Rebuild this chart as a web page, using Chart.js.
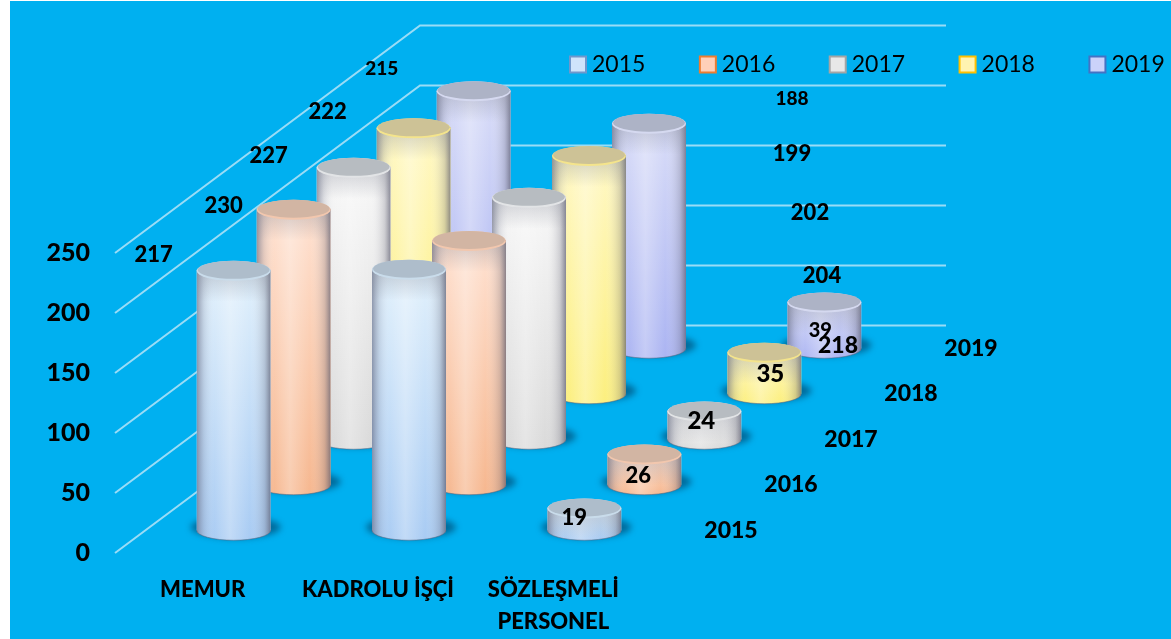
<!DOCTYPE html>
<html><head><meta charset="utf-8">
<style>html,body{margin:0;padding:0;background:#fff}#w{position:relative;width:1171px;height:639px}canvas{display:block}</style>
<script src="https://cdn.jsdelivr.net/npm/chart.js@4"></script>
</head><body><div id="w"><canvas id="c" width="1171" height="639"></canvas></div>
<script>
const categories = [['MEMUR'], ['KADROLU İŞÇİ'], ['SÖZLEŞMELİ', 'PERSONEL']];
const years = ['2015', '2016', '2017', '2018', '2019'];
const values2015 = [217, 218, 19];
const values2016 = [230, 204, 26];
const values2017 = [227, 202, 24];
const values2018 = [222, 199, 35];
const values2019 = [215, 188, 39];
const yTicks = { min: 0, max: 250, step: 50 };

// styling only
const seriesStyle = [
  { top: '#E2F1FC', bottom: '#A8CBF3', cap: '#AEBDCB', rim: '#C9DCEB', box: '#CFE4FB', line: '#6F97CC' },
  { top: '#FFE2D2', bottom: '#F6B78F', cap: '#D2B5A3', rim: '#F2C7AE', box: '#FFD0B8', line: '#ED7D31' },
  { top: '#F8F8F8', bottom: '#DADADA', cap: '#B7BCC1', rim: '#E2E4E6', box: '#E8E8E8', line: '#A5A5A5' },
  { top: '#FFF8C6', bottom: '#FCEF7E', cap: '#CDC296', rim: '#F4E48C', box: '#FFF3B0', line: '#FFC000' },
  { top: '#D9DDF8', bottom: '#ABB4F2', cap: '#ADB3C6', rim: '#D5D9F0', box: '#CBD2FA', line: '#4472C4' }
];
const wallStep = { x: 61, y: 45.5 };
const columnStep = { x: 60, y: 45.5, shift: 1 };
// label placement relative to each column's top centre: [dx, dy, font size], per year, per category
const labelNudge = [
  [[-80, -15, 22], [429, 77, 23], [-10, 10, 22]],
  [[-70, -3, 22], [353, 36, 22], [-6, 22, 22]],
  [[-85, -11, 22], [281, 16, 22], [-3, 11, 24]],
  [[-86, -15, 22], [203, -1, 22], [6, 23, 24]],
  [[-92, -21, 19], [143, -24, 19], [-4, 29, 20]]
];
const FONT = 'Lato, "Open Sans", sans-serif';

const allValues = [values2015, values2016, values2017, values2018, values2019];

function offsetOf(d) {
  return { x: columnStep.x * (d + 0.5) + columnStep.shift, y: columnStep.y * (d + 0.5) };
}

const scene = {
  id: 'scene',
  beforeDraw(chart) {
    const c = chart.ctx;
    c.save();
    c.fillStyle = '#00B0F0';
    c.fillRect(10, 1, chart.width - 10, chart.height - 1);
    c.restore();
  },
  afterLayout(chart) {
    const lg = chart.legend;
    lg.left = 515.5; lg.right = 1400; lg.top = -7;
  },
  beforeDatasetsDraw(chart) {
    const c = chart.ctx, xs = chart.scales.x, ys = chart.scales.y;
    const dx = wallStep.x * years.length, dy = wallStep.y * years.length;
    c.save();
    c.strokeStyle = '#9ADCF6';
    c.lineWidth = 2;
    ys.ticks.forEach(t => {
      const y = ys.getPixelForValue(t.value);
      c.beginPath();
      c.moveTo(xs.left, y);
      c.lineTo(xs.left + dx, y - dy);
      c.lineTo(xs.right + dx, y - dy);
      c.stroke();
    });
    c.restore();
  },
  beforeDatasetDraw(chart, args) {
    const c = chart.ctx, d = args.index, st = seriesStyle[d], o = offsetOf(d);
    args.meta.data.forEach(el => {
      const rx = Math.max(el.width / 2, 2), ry = rx * 0.27;
      const x = el.x + o.x, top = el.y - o.y, base = el.base - o.y;
      // ground shadow
      c.save();
      c.filter = 'blur(3px)';
      c.fillStyle = 'rgba(0,70,110,0.65)';
      c.beginPath();
      c.ellipse(x + 2, base - 3, rx + 8, ry + 1, 0, 0, Math.PI * 2);
      c.fill();
      c.restore();
      // side
      c.save();
      c.beginPath();
      c.moveTo(x - rx, top);
      c.lineTo(x - rx, base);
      c.ellipse(x, base, rx, ry, 0, Math.PI, 0, true);
      c.lineTo(x + rx, top);
      c.closePath();
      const v = c.createLinearGradient(0, top, 0, base + ry);
      v.addColorStop(0, st.top); v.addColorStop(1, st.bottom);
      c.fillStyle = v; c.fill();
      c.clip();
      const h = c.createLinearGradient(x - rx, 0, x + rx, 0);
      h.addColorStop(0, 'rgba(95,100,125,0.62)');
      h.addColorStop(0.1, 'rgba(130,135,155,0.22)');
      h.addColorStop(0.24, 'rgba(255,255,255,0.03)');
      h.addColorStop(0.45, 'rgba(255,255,255,0.3)');
      h.addColorStop(0.72, 'rgba(255,255,255,0)');
      h.addColorStop(0.92, 'rgba(110,110,125,0.28)');
      h.addColorStop(1, 'rgba(85,85,105,0.68)');
      c.fillStyle = h;
      c.fillRect(x - rx, top - ry, rx * 2, base - top + 2 * ry + 2);
      // soft band below the cap
      const b = c.createLinearGradient(0, top, 0, top + ry * 3.2);
      b.addColorStop(0, 'rgba(120,125,140,0.35)');
      b.addColorStop(1, 'rgba(120,125,140,0)');
      c.fillStyle = b;
      c.fillRect(x - rx, top, rx * 2, ry * 3.2);
      c.restore();
      // bottom edge
      c.strokeStyle = 'rgba(90,100,125,0.55)';
      c.lineWidth = 1;
      c.beginPath(); c.ellipse(x, base, rx, ry, 0, Math.PI, 0, true); c.stroke();
      // cap
      c.fillStyle = st.rim;
      c.beginPath(); c.ellipse(x, top + 1, rx, ry, 0, 0, Math.PI * 2); c.fill();
      c.fillStyle = st.cap;
      c.beginPath(); c.ellipse(x, top, rx - 1, ry - 1, 0, 0, Math.PI * 2); c.fill();
    });
    return false;
  },
  afterDatasetsDraw(chart) {
    const c = chart.ctx, xs = chart.scales.x, ys = chart.scales.y;
    c.save();
    c.fillStyle = '#000';
    c.textAlign = 'center';
    c.textBaseline = 'middle';
    chart.data.datasets.forEach((ds, d) => {
      const o = offsetOf(d), meta = chart.getDatasetMeta(d);
      meta.data.forEach((el, i) => {
        const n = labelNudge[d][i];
        c.font = `900 ${n[2]}px ${FONT}`;
        c.fillText(String(ds.data[i]), el.x + o.x + n[0], el.y - o.y + n[1]);
      });
      c.font = `900 23px ${FONT}`;
      c.fillText(ds.label, xs.right + o.x + 59, ys.getPixelForValue(0) - o.y);
    });
    c.restore();
  }
};

new Chart(document.getElementById('c'), {
  type: 'bar',
  plugins: [scene],
  data: {
    labels: categories,
    datasets: years.map((y, i) => ({
      label: y,
      data: allValues[i],
      backgroundColor: seriesStyle[i].box,
      borderColor: seriesStyle[i].line,
      borderWidth: 2
    }))
  },
  options: {
    responsive: false,
    animation: false,
    devicePixelRatio: 1,
    layout: { padding: { top: 77, right: 530, left: 0, bottom: 0 } },
    datasets: { bar: { grouped: false, categoryPercentage: 1, barPercentage: 74 / 175.33 } },
    scales: {
      x: {
        grid: { display: false, drawTicks: false },
        border: { display: false },
        afterFit: s => { s.height = 86; },
        ticks: {
          maxRotation: 0, minRotation: 0, autoSkip: false, padding: 21, color: '#000',
          font: { family: FONT, weight: '900', size: 22, lineHeight: 1.46 }
        }
      },
      y: {
        min: yTicks.min, max: yTicks.max,
        grid: { display: false, drawTicks: false },
        border: { display: false },
        afterFit: s => { s.width = 115; },
        ticks: {
          stepSize: yTicks.step, padding: 25, color: '#000',
          font: { family: FONT, weight: '900', size: 25 }
        }
      }
    },
    plugins: {
      tooltip: { enabled: false },
      legend: {
        position: 'top',
        align: 'start',
        maxHeight: 200,
        labels: {
          color: '#000',
          font: { family: FONT, size: 23 },
          usePointStyle: true,
          pointStyle: 'rect',
          boxWidth: 5,
          boxHeight: 16,
          padding: 60,
          generateLabels: chart => chart.data.datasets.map((ds, i) => ({
            text: ds.label, datasetIndex: i, pointStyle: 'rect',
            fillStyle: ds.backgroundColor, strokeStyle: ds.borderColor, lineWidth: 2, fontColor: '#000'
          }))
        }
      }
    }
  }
});
</script></body></html>
